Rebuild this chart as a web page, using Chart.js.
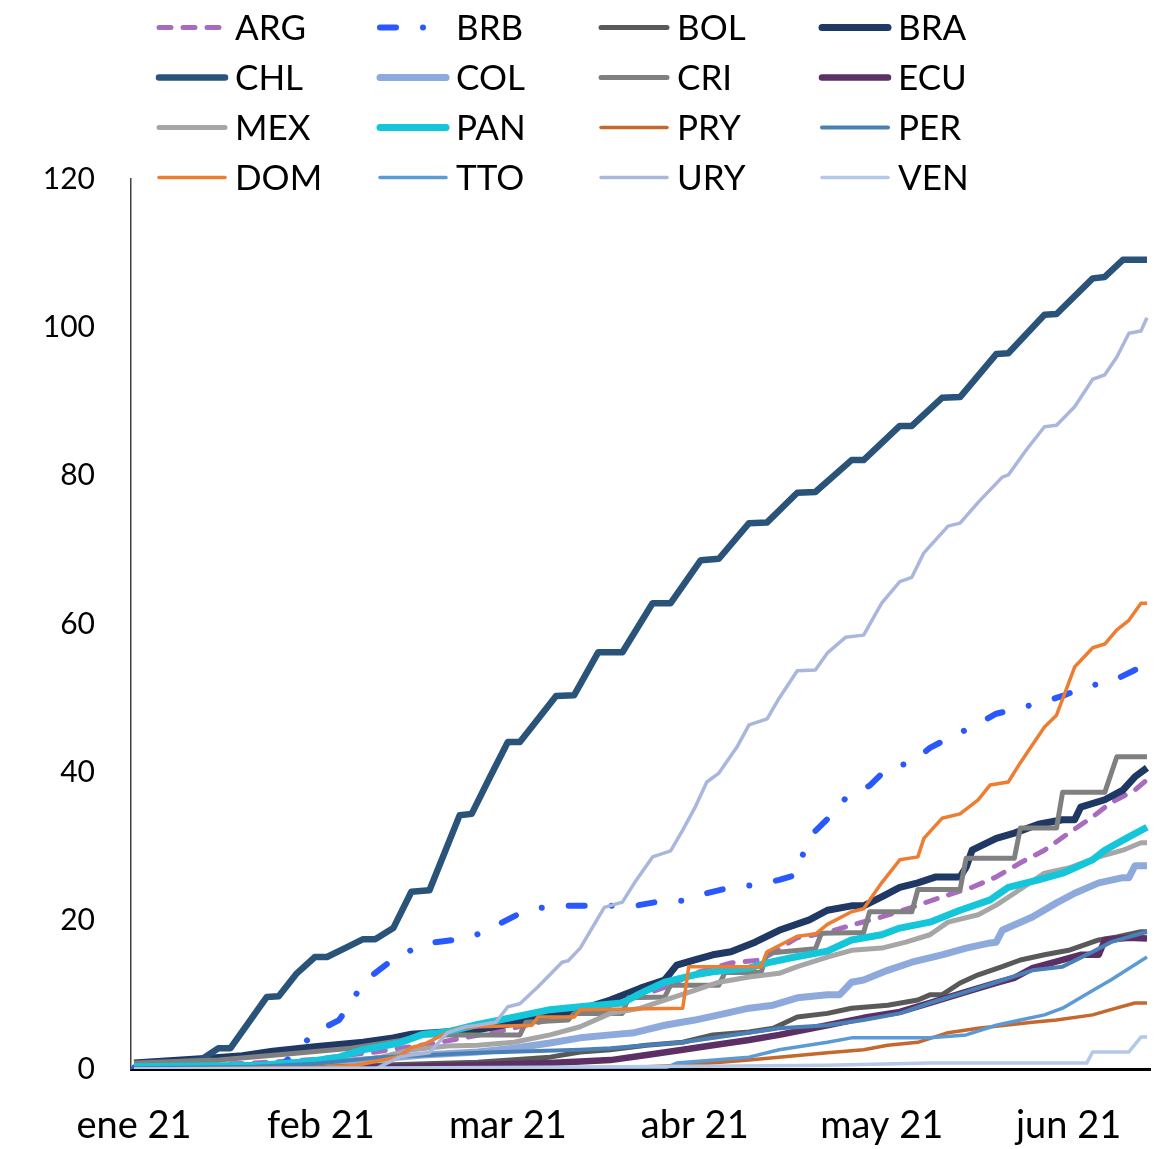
<!DOCTYPE html>
<html>
<head>
<meta charset="utf-8">
<script src="https://cdn.jsdelivr.net/npm/chart.js@4.4.0/dist/chart.umd.min.js"></script>
<style>
  body { margin: 0; background: #fff; }
  #wrap { width: 1171px; height: 1149px; }
</style>
</head>
<body>
<div id="wrap"><canvas id="chart" width="1171" height="1149"></canvas></div>
<script>
// x = day index (0 = first day of ene 21), y = value
const ARG = [[0,0.3],[20,0.8],[30,1.3],[40,2.3],[50,3.5],[60,5],[70,6.8],[80,8.8],[88,11],[93,12.9],[99,14.3],[104,14.7],[110,17.7],[115,18.4],[119,19.4],[124,20.5],[129,21.8],[134,23.2],[139,24.5],[143,25.9],[147,27.8],[151,29.5],[155,31.8],[159,34],[162,35.9],[166,37.6],[168,39]];
const BRB = [[0,0.1],[24,0.4],[25,0.9],[30,4.9],[34,6.6],[36,8.9],[38,11.7],[42,14.2],[45,15.6],[48,16.9],[53,17.4],[56,17.8],[60,19.3],[64,21],[67,21.7],[71,22],[83,22],[88,22.7],[91,22.7],[95,23.7],[99,24.5],[103,24.8],[107,25.5],[110,26.2],[111,29.1],[113,32.1],[116,34.5],[118,36.5],[122,38.2],[125,40.6],[129,41.3],[132,43.3],[136,45],[139,46.1],[143,47.9],[147,48.7],[150,49.3],[154,50.3],[158,51.6],[162,52.2],[166,53.8],[168,54.3]];
const BOL = [[0,0.2],[20,0.3],[40,0.5],[57,0.9],[69,1.6],[74,2.3],[79,2.6],[85,3.2],[91,3.6],[96,4.6],[102,5],[106,5.5],[110,7],[115,7.5],[119,8.2],[125,8.6],[130,9.3],[132,10],[134,10],[137,11.6],[140,12.7],[144,13.8],[147,14.7],[151,15.4],[155,16],[160,17.4],[163,17.8],[167,18.5],[168,18.5]];
const BRA = [[0,0.8],[13,1.5],[18,1.8],[23,2.4],[30,3],[38,3.6],[43,4.2],[46,4.7],[57,5.3],[63,6.2],[69,7.3],[74,8],[79,9.3],[84,10.9],[88,12],[90,14],[93,14.7],[96,15.4],[99,15.8],[103,17.1],[107,18.7],[112,20.1],[115,21.4],[119,22],[121,22],[124,23.2],[127,24.5],[130,25.1],[133,25.9],[137,25.9],[138,27.2],[139,29.5],[143,31.1],[146,31.8],[150,33],[154,33.6],[156,33.6],[157,35.3],[161,36.3],[164,37.6],[166,39.4],[168,40.6]];
const CHL = [[0,0.3],[11,1.2],[14,2.8],[16,2.8],[22,9.7],[24,9.8],[27,12.9],[30,15.1],[32,15.1],[35,16.3],[38,17.5],[40,17.5],[43,19],[46,23.9],[49,24.1],[54,34.2],[56,34.4],[59,39.3],[62,44.1],[64,44.1],[70,50.3],[73,50.4],[77,56.2],[81,56.2],[86,62.8],[89,62.8],[94,68.6],[97,68.8],[102,73.6],[105,73.7],[110,77.7],[113,77.8],[119,82.1],[121,82.1],[127,86.7],[129,86.7],[134,90.5],[137,90.6],[143,96.4],[145,96.5],[151,101.7],[153,101.8],[159,106.6],[161,106.8],[164,109.1],[168,109.1]];
const COL = [[0,0.2],[20,0.4],[30,0.8],[40,1.3],[48,1.9],[57,2.3],[63,2.8],[69,3.5],[74,4.2],[79,4.6],[83,4.9],[88,5.9],[93,6.6],[97,7.3],[102,8.2],[106,8.6],[110,9.6],[115,10],[117,10],[119,11.7],[121,12],[125,13.3],[129,14.4],[134,15.4],[138,16.3],[142,17],[143,17.1],[144,18.7],[149,20.5],[153,22.4],[156,23.7],[160,25.1],[164,25.8],[165,25.8],[166,27.4],[168,27.4]];
const CRI = [[0,0.8],[14,1.2],[25,2],[36,2.8],[44,3.8],[48,4.6],[64,4.6],[65,6.3],[72,6.6],[73,7.5],[81,7.5],[82,9.6],[88,9.7],[89,11.3],[97,11.3],[98,13],[104,13],[105,15.6],[113,16.2],[114,18.3],[121,18.4],[122,21.2],[129,21.2],[130,24.2],[137,24.2],[138,28.4],[146,28.4],[147,32.5],[153,32.5],[154,37.3],[161,37.3],[163,42.1],[168,42.1]];
const ECU = [[0,0],[40,0.2],[55,0.5],[69,0.8],[79,1.2],[85,1.9],[91,2.6],[96,3.2],[102,3.9],[107,4.6],[115,5.9],[121,6.9],[127,7.7],[132,8.9],[138,10.4],[143,11.6],[146,12.3],[149,13.6],[154,14.7],[157,15.4],[160,15.4],[161,17.4],[165,17.7],[168,17.6]];
const MEX = [[0,0.3],[20,0.5],[30,0.8],[36,1.1],[41,1.6],[46,2.6],[52,3.1],[57,3.2],[63,3.6],[69,4.6],[74,5.7],[79,7.5],[84,8.2],[88,9.3],[93,10.6],[97,11.7],[102,12.4],[107,12.9],[110,13.8],[115,15.1],[119,16],[124,16.3],[128,17.1],[132,18.1],[135,19.8],[140,20.8],[143,22.1],[146,23.7],[151,26.4],[155,27.1],[160,28.6],[164,29.5],[167,30.5],[168,30.5]];
const PAN = [[0,0.3],[21,0.5],[29,1],[34,1.6],[38,2.6],[44,3.5],[48,4.7],[52,5],[57,6],[63,7],[69,8],[74,8.4],[81,8.9],[84,10.2],[88,11.7],[93,12.7],[96,13.1],[102,13.6],[105,14.3],[109,15],[115,15.9],[119,17.4],[124,18.1],[127,19],[132,19.8],[137,21.4],[142,22.8],[145,24.5],[150,25.5],[154,26.4],[159,28.2],[161,29.5],[165,31.3],[168,32.6]];
const PRY = [[0,0],[60,0],[79,0.1],[91,0.5],[102,1.2],[115,2.2],[121,2.6],[125,3.2],[130,3.6],[135,4.9],[140,5.5],[149,6.3],[153,6.6],[159,7.3],[162,8],[166,8.9],[168,8.9]];
const PER = [[0,0.1],[20,0.3],[30,0.7],[41,1.6],[57,2.2],[74,2.6],[79,2.8],[91,3.6],[102,4.9],[107,5.5],[115,5.9],[121,6.6],[127,7.5],[132,8.9],[138,10.4],[143,11.7],[149,13.3],[154,13.8],[159,15.8],[162,17.1],[168,18.5]];
const DOM = [[0,0],[30,0.2],[37,0.5],[40,1],[44,1.7],[46,2.9],[48,3.3],[52,4.9],[54,5.5],[57,5.7],[66,5.9],[67,7],[73,7],[74,8],[82,8.1],[91,8.2],[92,13.8],[104,13.8],[105,15.8],[110,17.9],[113,18.2],[115,19.5],[119,21.2],[121,21.6],[124,25.1],[127,28.2],[130,28.6],[131,31.1],[134,33.8],[137,34.4],[140,36.3],[142,38.3],[145,38.7],[147,41.3],[151,46.1],[153,47.7],[156,54.2],[159,56.8],[161,57.3],[163,59.2],[165,60.5],[167,62.8],[168,62.8]];
const TTO = [[0,0],[88,0.1],[90,0.8],[102,1.6],[107,2.6],[115,3.6],[119,4.2],[132,4.2],[138,4.6],[143,5.9],[147,6.6],[151,7.3],[154,8.2],[159,10.6],[162,12],[168,15.1]];
const URY = [[0,0],[40,0],[44,1.6],[46,1.9],[49,2.2],[52,4.9],[55,5.7],[57,5.9],[60,6.3],[62,8.4],[64,8.8],[67,11.1],[71,14.4],[72,14.6],[74,16.3],[78,21.8],[81,22.5],[83,25.1],[86,28.6],[89,29.4],[91,32.2],[93,35.2],[95,38.7],[97,39.9],[100,43.4],[102,46.4],[105,47.2],[107,50],[110,53.7],[113,53.8],[115,56.1],[118,58.2],[121,58.5],[124,62.8],[127,65.7],[129,66.3],[131,69.6],[135,73.2],[137,73.6],[140,76.4],[144,79.8],[145,80.1],[148,83.5],[151,86.6],[153,86.8],[156,89.3],[159,93],[161,93.6],[163,96],[165,99.2],[167,99.5],[168,101.3]];
const VEN = [[0,0],[60,0.2],[100,0.4],[115,0.5],[132,0.8],[158,0.8],[159,2.3],[165,2.3],[167,4.3],[168,4.3]];

const countries = ['ARG','BRB','BOL','BRA','CHL','COL','CRI','ECU','MEX','PAN','PRY','PER','DOM','TTO','URY','VEN'];
const seriesData = [ARG, BRB, BOL, BRA, CHL, COL, CRI, ECU, MEX, PAN, PRY, PER, DOM, TTO, URY, VEN];

const monthDays = [0, 31, 62, 93, 124, 155];
const monthLabels = ['ene 21', 'feb 21', 'mar 21', 'abr 21', 'may 21', 'jun 21'];
const yTicks = [0, 20, 40, 60, 80, 100, 120];

// styles
const colors = ['#a86bbd','#2a58ff','#595959','#1f3864','#2a5379','#8eaadc','#808080','#5c3064',
                '#a6a6a6','#14c6d9','#c6672e','#4a80b8','#ed7d31','#5b9bd5','#aab7dc','#b4c8e8'];
const widths = [5, 6, 5, 7, 6.5, 7, 5, 6.5, 5, 7, 3.5, 4, 3.5, 3.5, 3.5, 3.5];
const dashes = { ARG: [12, 12], BRB: [16, 27, 0.01, 27] };

const FONT = 'Lato, "Noto Sans", sans-serif';

let datasets = countries.map((name, i) => ({
  label: name,
  data: seriesData[i].map(p => ({ x: p[0], y: p[1] })),
  borderColor: colors[i],
  backgroundColor: colors[i],
  borderWidth: widths[i],
  borderDash: dashes[name] || [],
  borderCapStyle: dashes[name] ? 'round' : 'butt',
  borderJoinStyle: 'round',
  pointRadius: 0,
  tension: 0,
  fill: false,
  order: countries.length - i   // later series on top, like the source
}));

// legend 4x4 grid drawn on the canvas
const legendGrid = {
  id: 'legendGrid',
  afterDraw(chart) {
    let ctx = chart.ctx;
    let colX = [157, 378, 599, 820];
    ctx.save();
    chart.data.datasets.forEach((ds, i) => {
      let x = colX[i % 4];
      let y = 27.5 + Math.floor(i / 4) * 50;
      ctx.beginPath();
      ctx.strokeStyle = ds.borderColor;
      ctx.lineWidth = ds.borderWidth;
      ctx.lineCap = 'round';
      ctx.setLineDash(ds.borderDash);
      ctx.moveTo(x + 2, y);
      ctx.lineTo(x + 68, y);
      ctx.stroke();
      ctx.setLineDash([]);
      ctx.fillStyle = '#000';
      ctx.font = '35px ' + FONT;
      ctx.textAlign = 'left';
      ctx.textBaseline = 'alphabetic';
      ctx.fillText(ds.label, x + 78, y + 12.5);
    });
    ctx.restore();
  }
};

new Chart(document.getElementById('chart'), {
  type: 'line',
  data: { datasets: datasets },
  options: {
    responsive: false,
    animation: false,
    layout: { padding: { top: 179, right: 21, left: 0, bottom: 0 } },
    plugins: { legend: { display: false }, tooltip: { enabled: false } },
    scales: {
      x: {
        type: 'linear',
        min: -0.5,
        max: 168.5,
        afterBuildTicks: (scale) => { scale.ticks = monthDays.map(v => ({ value: v })); },
        afterFit: (scale) => { scale.height = 80; },
        grid: { display: false, drawTicks: false },
        border: { display: true, color: '#000', width: 3 },
        ticks: {
          autoSkip: false,
          maxRotation: 0,
          padding: 34,
          color: '#000',
          font: { family: FONT, size: 38 },
          callback: (v) => monthLabels[monthDays.indexOf(v)]
        }
      },
      y: {
        min: 0,
        max: 120,
        afterBuildTicks: (scale) => { scale.ticks = yTicks.map(v => ({ value: v })); },
        afterFit: (scale) => { scale.width = 131; },
        grid: { display: false, drawTicks: false },
        border: { display: true, color: '#404040', width: 1.5 },
        ticks: {
          padding: 36,
          color: '#000',
          font: { family: FONT, size: 30 }
        }
      }
    }
  },
  plugins: [legendGrid]
});
</script>
</body>
</html>
